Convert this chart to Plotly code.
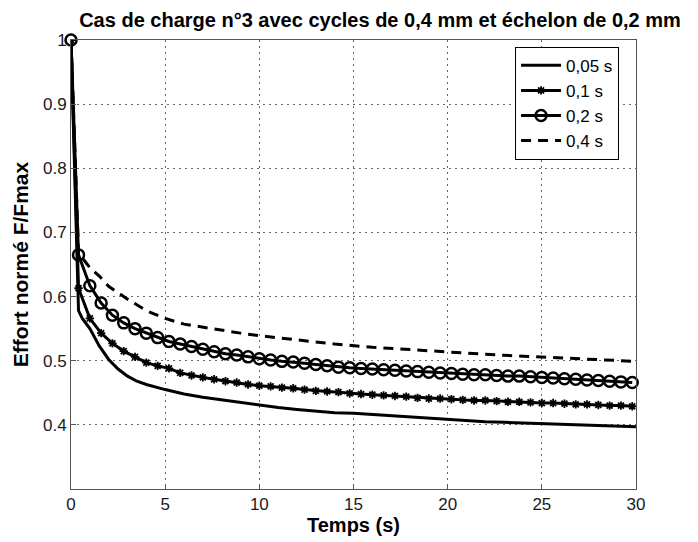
import plotly.graph_objects as go

# ---- data ----
t_005 = [0, 0.4, 0.6, 1.0, 1.5, 2.0, 2.5, 3.0, 3.5, 4.0, 5.0, 6.0, 7.0, 8.0, 9.0, 10.0,
         11.0, 12.0, 13.0, 14.0, 15.0, 16.0, 17.0, 18.0, 19.0, 20.0, 21.0, 22.0, 23.0,
         24.0, 25.0, 26.0, 27.0, 28.0, 29.0, 30.0]
v_005 = [1.0, 0.578, 0.566, 0.550, 0.523, 0.502, 0.487, 0.476, 0.468, 0.463, 0.455, 0.448,
         0.443, 0.439, 0.434, 0.430, 0.427, 0.424, 0.421, 0.419, 0.418, 0.416, 0.414,
         0.412, 0.410, 0.408, 0.407, 0.405, 0.404, 0.403, 0.401, 0.400, 0.399, 0.399,
         0.398, 0.397]

t_mark = [0, 0.4, 1.0, 1.6, 2.2, 2.8, 3.4, 4.0, 4.6, 5.2, 5.8, 6.4, 7.0, 7.6, 8.2, 8.8,
          9.4, 10.0, 10.6, 11.2, 11.8, 12.4, 13.0, 13.6, 14.2, 14.8, 15.4, 16.0, 16.6,
          17.2, 17.8, 18.4, 19.0, 19.6, 20.2, 20.8, 21.4, 22.0, 22.6, 23.2, 23.8, 24.4,
          25.0, 25.6, 26.2, 26.8, 27.4, 28.0, 28.6, 29.2, 29.8]
v_01 = [1.0, 0.613, 0.566, 0.543, 0.527, 0.515, 0.506, 0.497, 0.492, 0.488, 0.481, 0.477,
        0.474, 0.471, 0.468, 0.466, 0.463, 0.461, 0.460, 0.458, 0.457, 0.455, 0.453,
        0.452, 0.451, 0.449, 0.448, 0.447, 0.446, 0.445, 0.444, 0.442, 0.441, 0.441,
        0.440, 0.439, 0.438, 0.438, 0.437, 0.436, 0.436, 0.435, 0.434, 0.434, 0.433,
        0.432, 0.432, 0.431, 0.430, 0.430, 0.429]
v_02 = [1.0, 0.665, 0.617, 0.590, 0.571, 0.559, 0.550, 0.543, 0.536, 0.530, 0.526, 0.522,
        0.518, 0.514, 0.511, 0.509, 0.506, 0.503, 0.501, 0.499, 0.498, 0.496, 0.494,
        0.492, 0.490, 0.489, 0.488, 0.487, 0.486, 0.485, 0.484, 0.483, 0.482, 0.481,
        0.480, 0.479, 0.478, 0.478, 0.477, 0.476, 0.476, 0.475, 0.474, 0.473, 0.472,
        0.471, 0.470, 0.469, 0.468, 0.467, 0.466]

t_04 = [0, 0.4, 1.0, 1.5, 2.0, 3.0, 4.0, 5.0, 6.0, 7.0, 8.0, 9.0, 10.0, 12.0, 14.0, 16.0,
        18.0, 20.0, 22.0, 24.0, 26.0, 28.0, 30.0]
v_04 = [1.0, 0.668, 0.645, 0.632, 0.616, 0.596, 0.578, 0.566, 0.557, 0.552, 0.547, 0.543,
        0.539, 0.532, 0.526, 0.521, 0.517, 0.513, 0.510, 0.507, 0.504, 0.501, 0.499]

names = ["0,05 s", "0,1 s", "0,2 s", "0,4 s"]
x_ticks = [0, 5, 10, 15, 20, 25, 30]
y_ticks = [0.4, 0.5, 0.6, 0.7, 0.8, 0.9, 1.0]
y_ticklabels = ["0.4", "0.5", "0.6", "0.7", "0.8", "0.9", "1"]

title = "Cas de charge n°3 avec cycles de 0,4 mm et échelon de 0,2 mm"
x_title = "Temps (s)"
y_title = "Effort normé F/Fmax"

FONT = "Liberation Sans, Arial, sans-serif"

# page has an 8px body margin; figure sized so that it fits the window
W, H = 690, 534

fig = go.Figure()
fig.add_trace(go.Scatter(x=t_005, y=v_005, mode="lines", name=names[0],
                         line=dict(color="black", width=3)))
fig.add_trace(go.Scatter(x=t_mark, y=v_01, mode="lines+markers", name=names[1],
                         line=dict(color="black", width=3),
                         marker=dict(symbol="asterisk-open", size=7,
                                     line=dict(color="black", width=1.8))))
fig.add_trace(go.Scatter(x=t_mark, y=v_02, mode="lines+markers", name=names[2],
                         line=dict(color="black", width=3), cliponaxis=False,
                         marker=dict(symbol="circle-open", size=11,
                                     line=dict(color="black", width=2.5))))
fig.add_trace(go.Scatter(x=t_04, y=v_04, mode="lines", name=names[3],
                         line=dict(color="black", width=3, dash="10px,7px")))

axis_common = dict(
    showline=True, linecolor="#555555", linewidth=1, mirror=True,
    ticks="inside", ticklen=5, tickcolor="#555555",
    showgrid=True, gridcolor="#666666", griddash="2px,4px", gridwidth=1,
    zeroline=False, automargin=False,
    tickfont=dict(family=FONT, size=17, color="#1a1a1a"),
)

fig.update_xaxes(range=[0, 30], tickvals=x_ticks,
                 title=dict(text="<b>" + x_title + "</b>", standoff=2,
                            font=dict(family=FONT, size=20, color="black")),
                 **axis_common)
fig.update_yaxes(range=[0.3, 1.0], tickvals=y_ticks, ticktext=y_ticklabels,
                 title=dict(text="<b>" + y_title + "</b>", standoff=8,
                            font=dict(family=FONT, size=21, color="black")),
                 **axis_common)

fig.update_layout(
    width=W, height=H,
    margin=dict(l=63, r=W - 628, t=32, b=H - 481),
    paper_bgcolor="white", plot_bgcolor="white",
    title=dict(text="<b>" + title + "</b>", xref="container", yref="container",
               x=372 / W, xanchor="center", y=1 - 12 / H, yanchor="middle",
               font=dict(family=FONT, size=20, color="black")),
    legend=dict(x=0.97, y=0.985, xanchor="right", yanchor="top",
                bgcolor="white", bordercolor="black", borderwidth=1,
                font=dict(family=FONT, size=17, color="black"),
                tracegroupgap=0, itemwidth=40),
    showlegend=True,
)

fig.write_html("out.html")
